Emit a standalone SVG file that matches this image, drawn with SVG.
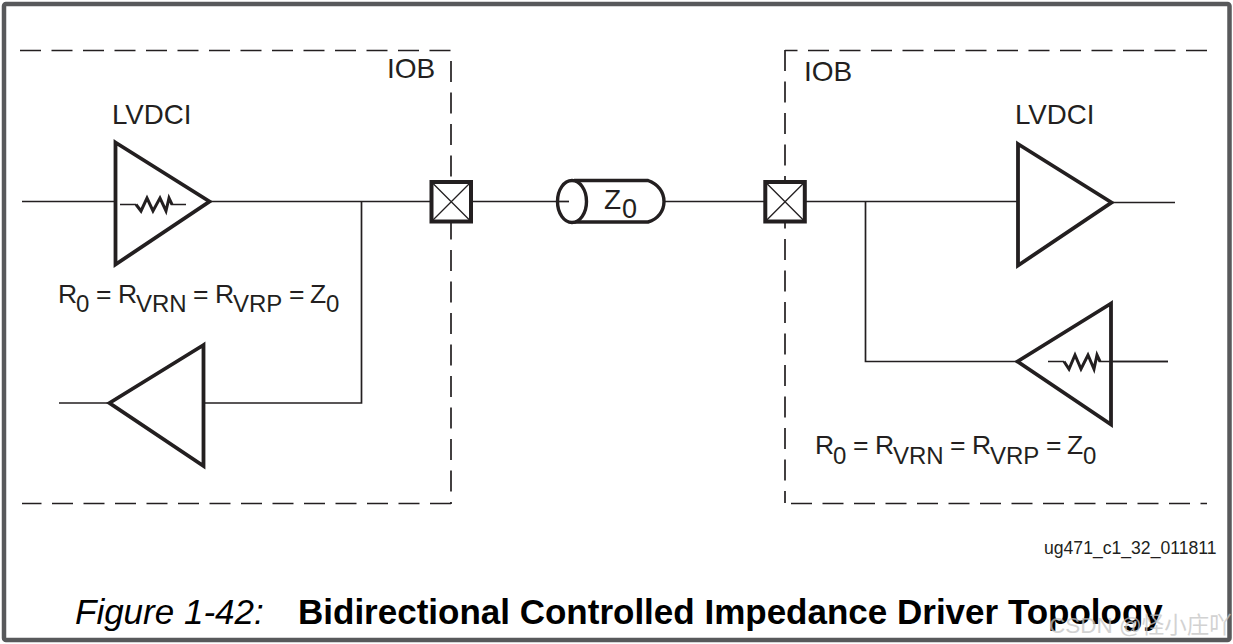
<svg xmlns="http://www.w3.org/2000/svg" width="1233" height="644" viewBox="0 0 1233 644">
<style>
text{font-family:"Liberation Sans",Arial,sans-serif;fill:#231f20}
.l{fill:none;stroke:#231f20;stroke-width:1.7}
.d{fill:none;stroke:#231f20;stroke-width:1.7;stroke-dasharray:21 10.5}
.t{fill:#fff;stroke:#231f20;stroke-width:3.8}
.r{fill:none;stroke:#231f20;stroke-width:3}
.b{fill:#fff;stroke:#231f20;stroke-width:4}
.x{fill:none;stroke:#231f20;stroke-width:1.3}
.m{font-size:26.500px}
.u{font-size:24px}
.c{font-size:35px;fill:#000}
</style>
<rect x="4" y="4" width="1225.500" height="636" fill="#fff" stroke="#58595b" stroke-width="4.500" rx="2"/>
<g id="iob-left">
<path class="d" d="M20 50.500H451"/>
<path class="d" d="M451 61V504"/>
<path class="d" d="M451 503.500H22"/>
<text x="387" y="78" font-size="28">IOB</text>
</g>
<g id="iob-right">
<path class="d" d="M1207 50.500H785"/>
<path class="d" d="M785 50V503"/>
<path class="d" d="M791 503.500H1207"/>
<text x="804" y="81" font-size="28">IOB</text>
</g>
<g id="connectors">
<path class="l" d="M22 201.500H115M211 201.500H431M361.500 201.500V403H204M108 403H59"/>
<path class="l" d="M472 201.500H558M665 201.500H765M805 201.500H1017M1113 202.500H1175M865.500 201.500V361.500H1017M1112 361.500H1168"/>
</g>
<g id="driver-left">
<path class="t" d="M115.500 142.500L209.500 201.500L115.500 264.500Z"/>
<path class="l" d="M120 204.500H136M171 204.500H186"/>
<path class="r" d="M136 204.500L141 211L147 198L153 211L160 198L166 211L169 198L172 204.500"/>
<text x="112" y="124" font-size="27.700">LVDCI</text>
</g>
<g id="equation-left">
<text y="302.500" class="m"><tspan x="58">R</tspan><tspan x="96">=</tspan><tspan x="118">R</tspan><tspan x="193">=</tspan><tspan x="215">R</tspan><tspan x="289">=</tspan><tspan x="310">Z</tspan></text>
<text y="312" class="u"><tspan x="76">0</tspan><tspan x="136">VRN</tspan><tspan x="233">VRP</tspan><tspan x="326">0</tspan></text>
</g>
<g id="receiver-left">
<path class="t" d="M203.500 345L109.500 403L203.500 466Z"/>
</g>
<g id="pad-left">
<rect class="b" x="431.500" y="182" width="39.500" height="39.500"/>
<path class="x" d="M431.500 182L471 221.500M471 182L431.500 221.500"/>
</g>
<g id="line-z0">
<path d="M574 180.500H648C658 184 664 192 664 201.500C664 211 658 219 648 222H574" fill="none" stroke="#231f20" stroke-width="3.400"/>
<ellipse cx="572" cy="201.500" rx="14.500" ry="21" fill="#fff" stroke="#231f20" stroke-width="3.400"/>
<path class="l" d="M558 201.500H569"/>
<text x="604" y="209" font-size="28">Z</text>
<text x="622" y="218" font-size="27">0</text>
</g>
<g id="pad-right">
<rect class="b" x="765.300" y="182" width="39.500" height="39.500"/>
<path class="x" d="M765.300 182L804.800 221.500M804.800 182L765.300 221.500"/>
</g>
<g id="receiver-right">
<path class="t" d="M1018 144L1111.500 202.500L1018 265.500Z"/>
<text x="1015" y="124" font-size="27.700">LVDCI</text>
</g>
<g id="driver-right">
<path class="t" d="M1111 303.500L1017.500 361.500L1111 424.500Z"/>
<path class="l" d="M1048 361.500H1064M1099 361.500H1168"/>
<path class="r" d="M1064 361.500L1069 369L1075 355L1081 369L1088 355L1094 369L1097 355L1100 361.500"/>
</g>
<g id="equation-right">
<text y="454" class="m"><tspan x="815">R</tspan><tspan x="853">=</tspan><tspan x="875">R</tspan><tspan x="950">=</tspan><tspan x="972">R</tspan><tspan x="1046">=</tspan><tspan x="1067">Z</tspan></text>
<text y="463.500" class="u"><tspan x="833">0</tspan><tspan x="893">VRN</tspan><tspan x="990">VRP</tspan><tspan x="1083">0</tspan></text>
</g>
<text x="1044" y="554" font-size="17.600">ug471_c1_32_011811</text>
<text x="75" y="624" class="c" font-style="italic">Figure 1-42:</text>
<text x="298" y="624" class="c" font-weight="700">Bidirectional Controlled Impedance Driver Topology</text>
<text x="1049" y="633" font-size="22.500" style="fill:#c4c4c4;font-family:'Liberation Sans','Noto Sans CJK SC',sans-serif" opacity="0.75">CSDN @怪小庄吖</text>
</svg>
